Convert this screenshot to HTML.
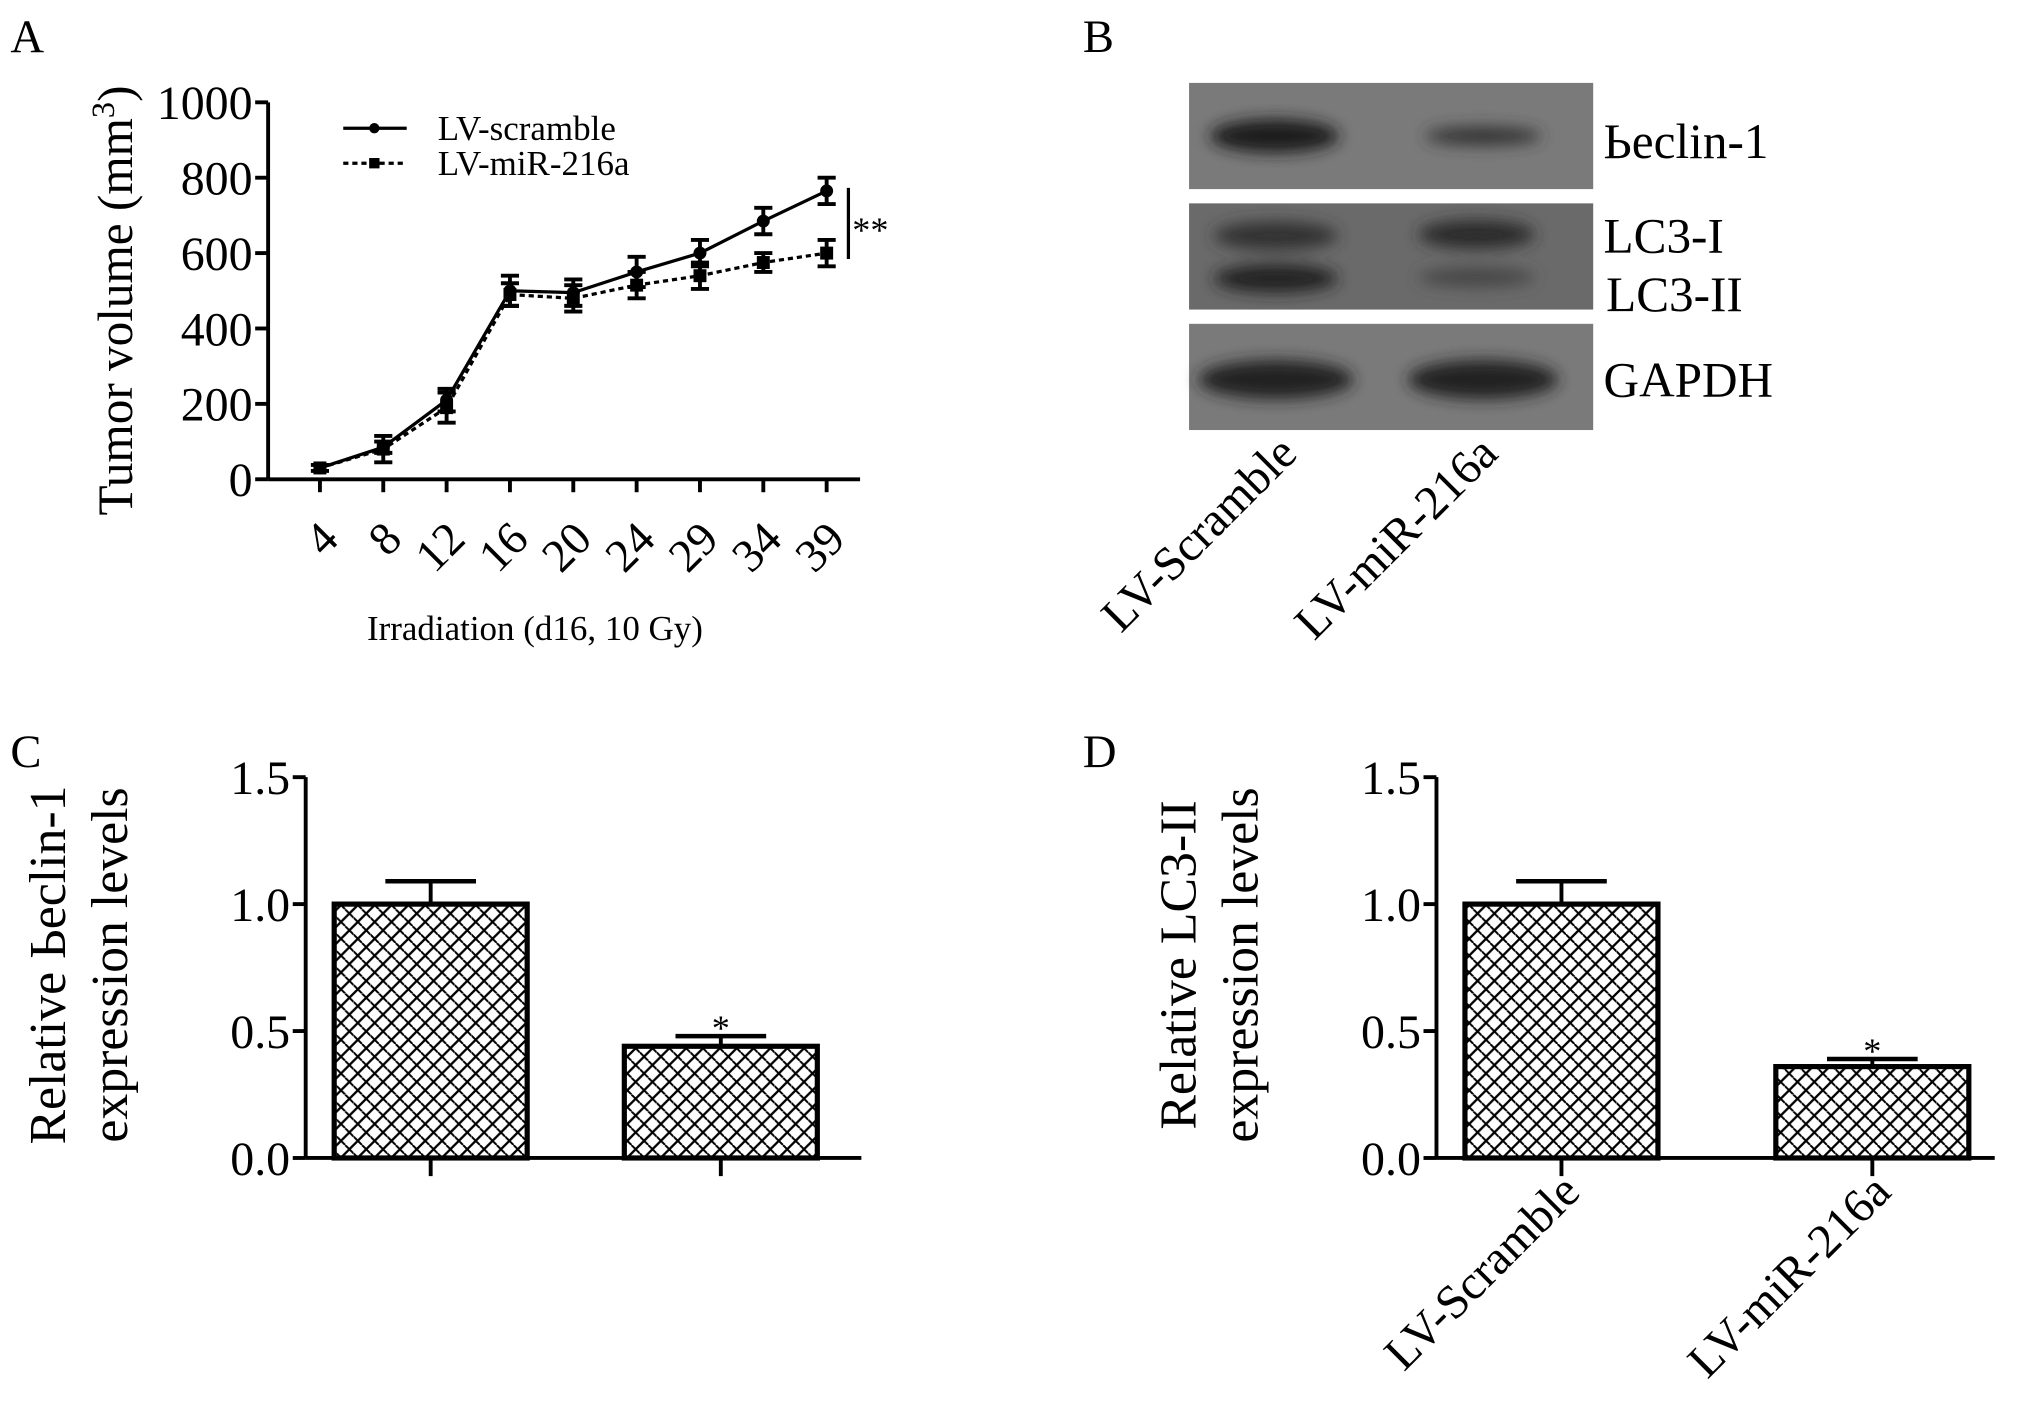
<!DOCTYPE html>
<html><head><meta charset="utf-8"><style>
html,body{margin:0;padding:0;background:#fff}
svg{display:block;font-family:"Liberation Serif",serif}
</style></head><body>
<svg width="2031" height="1423" viewBox="0 0 1568 1098.6">
<defs>
<pattern id="hatch" width="13" height="13" patternUnits="userSpaceOnUse">
<rect width="13" height="13" fill="#fff"/>
<path d="M0 13L13 0M-3 3L3 -3M10 16L16 10" stroke="#000" stroke-width="1.8"/>
<path d="M0 6.5L6.5 13M6.5 0L13 6.5" stroke="#000" stroke-width="1.5"/>
</pattern>
<filter id="blur"><feGaussianBlur stdDeviation="6"/></filter>
</defs>
<g id="root"></g>
<text x="8" y="40" font-size="36">A</text>
<text x="836" y="40" font-size="36">B</text>
<text x="8" y="592" font-size="36">C</text>
<text x="836" y="592" font-size="36">D</text>
<g>
<rect x="918" y="64" width="312" height="82" fill="#7a7a7a"/>
<rect x="918" y="157" width="312" height="82" fill="#6a6a6a"/>
<rect x="918" y="250" width="312" height="82" fill="#7a7a7a"/>
<g filter="url(#blur)">
<ellipse cx="984" cy="105" rx="50" ry="13" fill="#1a1a1a"/>
<ellipse cx="1145" cy="105" rx="45" ry="7" fill="#333"/>
<ellipse cx="985" cy="182" rx="48" ry="11" fill="#333"/>
<ellipse cx="1140" cy="181" rx="45" ry="11" fill="#2a2a2a"/>
<ellipse cx="985" cy="215" rx="48" ry="11" fill="#222"/>
<ellipse cx="1140" cy="214" rx="45" ry="7" fill="#444"/>
<ellipse cx="985" cy="293" rx="60" ry="15" fill="#222"/>
<ellipse cx="1145" cy="293" rx="58" ry="15" fill="#222"/>
</g>
</g>
<g font-size="38">
<text x="1238" y="122">Ьeclin-1</text>
<text x="1238" y="195">LC3-I</text>
<text x="1240" y="240">LC3-II</text>
<text x="1238" y="306">GAPDH</text>
</g>
<text x="1003" y="352" font-size="37" text-anchor="end" transform="rotate(-45 1003 352)">LV-Scramble</text>
<text x="1158" y="352" font-size="37" text-anchor="end" transform="rotate(-45 1158 352)">LV-miR-216a</text>
<script>
const days=["4","8","12","16","20","24","29","34","39"];
const scrambleVals=[30,85,210,500,495,550,600,685,765];
const scrambleErr=[0,15,30,40,35,40,35,35,35];
const mirVals=[30,80,190,490,480,515,540,575,600];
const mirErr=[8,35,40,30,35,35,35,25,35];
const yTicksA=[0,200,400,600,800,1000];
const groupsCD=["LV-Scramble","LV-miR-216a"];
const beclinVals=[1.0,0.44];
const beclinErr=[0.09,0.04];
const lc3Vals=[1.0,0.36];
const lc3Err=[0.09,0.03];
const yTicksCD=["0.0","0.5","1.0","1.5"];

const NS="http://www.w3.org/2000/svg";
const root=document.getElementById('root');
function el(tag,attrs,parent,txt){const e=document.createElementNS(NS,tag);for(const k in attrs)e.setAttribute(k,attrs[k]);if(txt!==undefined)e.textContent=txt;(parent||root).appendChild(e);return e;}

const ax=207,ay0=370,ay1=79,xFirst=247,xStep=48.9;
const yA=v=>ay0-(v/1000)*(ay0-ay1);
const xA=i=>xFirst+i*xStep;
const gA=el('g',{});


el('line',{x1:ax,y1:ay1,x2:ax,y2:ay0,stroke:'#000','stroke-width':3},gA);
el('line',{x1:ax,y1:ay0,x2:664,y2:ay0,stroke:'#000','stroke-width':3},gA);
yTicksA.forEach(t=>{
  el('line',{x1:ax-10,y1:yA(t),x2:ax,y2:yA(t),stroke:'#000','stroke-width':3},gA);
  const tx=el('text',{x:ax-12,y:yA(t)+13,'font-size':37,'text-anchor':'end'},gA,String(t));
  
  
});
days.forEach((d,i)=>{
  el('line',{x1:xA(i),y1:ay0,x2:xA(i),y2:ay0+10,stroke:'#000','stroke-width':3},gA);
  const px=xA(i)+16,py=ay0+48;
  const tx=el('text',{x:px,y:py,'font-size':36,'text-anchor':'end',transform:`rotate(-45 ${px} ${py})`},gA,d);
  
  
});
function series(vals,errs,dash,marker,name){
  const g=el('g',{},gA);
  
  
  el('polyline',{points:vals.map((v,i)=>xA(i)+','+yA(v)).join(' '),fill:'none',stroke:'#000','stroke-width':2.5,'stroke-dasharray':dash},g);
  vals.forEach((v,i)=>{
    const x=xA(i);
    if(errs[i]>0){
      el('line',{x1:x,y1:yA(v+errs[i]),x2:x,y2:yA(v-errs[i]),stroke:'#000','stroke-width':3},g);
      el('line',{x1:x-7,y1:yA(v+errs[i]),x2:x+7,y2:yA(v+errs[i]),stroke:'#000','stroke-width':3},g);
      el('line',{x1:x-7,y1:yA(v-errs[i]),x2:x+7,y2:yA(v-errs[i]),stroke:'#000','stroke-width':3},g);
    }
    if(marker==='c') el('circle',{cx:x,cy:yA(v),r:5},g);
    else el('rect',{x:x-5,y:yA(v)-5,width:10,height:10},g);
  });
}
series(scrambleVals,scrambleErr,'none','c','series-lv-scramble');
series(mirVals,mirErr,'4 3','s','series-lv-mir216a');
const lg=el('g',{},gA);


el('line',{x1:265,y1:99,x2:314,y2:99,stroke:'#000','stroke-width':2.5},lg);
el('circle',{cx:289,cy:99,r:4},lg);
el('text',{x:338,y:108,'font-size':27},lg,'LV-scramble');
el('line',{x1:265,y1:126,x2:314,y2:126,stroke:'#000','stroke-width':2.5,'stroke-dasharray':'4 3'},lg);
el('rect',{x:285,y:122,width:8,height:8},lg);
el('text',{x:338,y:135,'font-size':27},lg,'LV-miR-216a');
el('line',{x1:655,y1:145,x2:655,y2:200,stroke:'#000','stroke-width':2.5},gA);
el('text',{x:658,y:187,'font-size':28},gA,'**');
const yl=el('text',{'font-size':38,'text-anchor':'middle',transform:'translate(102 232) rotate(-90)'},gA);


el('tspan',{},yl,'Tumor volume (mm');
el('tspan',{dy:-14,'font-size':25},yl,'3');
el('tspan',{dy:14},yl,')');
const xt=el('text',{x:413,y:494,'font-size':27,'text-anchor':'middle'},gA,'Irradiation (d16, 10 Gy)');



function barPanel(axX,axEnd,barX,barW,vals,errs,lab1,name,showLabels){
  const y0=894,y15=600;
  const y=v=>y0-(v/1.5)*(y0-y15);
  const g=el('g',{});
  
  
  el('line',{x1:axX,y1:y15,x2:axX,y2:y0,stroke:'#000','stroke-width':3},g);
  el('line',{x1:axX,y1:y0,x2:axEnd,y2:y0,stroke:'#000','stroke-width':3},g);
  yTicksCD.forEach(t=>{
    const v=parseFloat(t);
    el('line',{x1:axX-10,y1:y(v),x2:axX,y2:y(v),stroke:'#000','stroke-width':3},g);
    const tx=el('text',{x:axX-12,y:y(v)+13,'font-size':37,'text-anchor':'end'},g,t);
    
    
  });
  vals.forEach((v,i)=>{
    const bx=barX[i],cx=bx+barW/2;
    el('line',{x1:cx,y1:y(v),x2:cx,y2:y(v+errs[i]),stroke:'#000','stroke-width':3},g);
    el('line',{x1:cx-35,y1:y(v+errs[i]),x2:cx+35,y2:y(v+errs[i]),stroke:'#000','stroke-width':3.5},g);
    const b=el('rect',{x:bx,y:y(v),width:barW,height:y0-y(v),fill:'url(#hatch)',stroke:'#000','stroke-width':4},g);
    
    
    el('line',{x1:cx,y1:y0,x2:cx,y2:y0+14,stroke:'#000','stroke-width':3},g);
    if(i===1) el('text',{x:cx,y:y(v+errs[i])+3,'font-size':28,'text-anchor':'middle'},g,'*');
    if(showLabels){
      const px=cx+16,py=y0+28;
      const tx=el('text',{x:px,y:py,'font-size':37,'text-anchor':'end',transform:`rotate(-45 ${px} ${py})`},g,groupsCD[i]);
      
      
    }
  });
  const t=el('text',{'font-size':40,'text-anchor':'middle',transform:`translate(${axX-186} 745) rotate(-90)`},g);
  
  
  el('tspan',{x:0,dy:0},t,lab1);
  el('tspan',{x:0,dy:48},t,'expression levels');
}
barPanel(236,665,[258,482],149,beclinVals,beclinErr,'Relative Ьeclin-1','beclin1-bar-chart',false);
barPanel(1109,1540,[1131,1371],149,lc3Vals,lc3Err,'Relative LC3-II','lc3-bar-chart',true);
</script>
</svg>
</body></html>
